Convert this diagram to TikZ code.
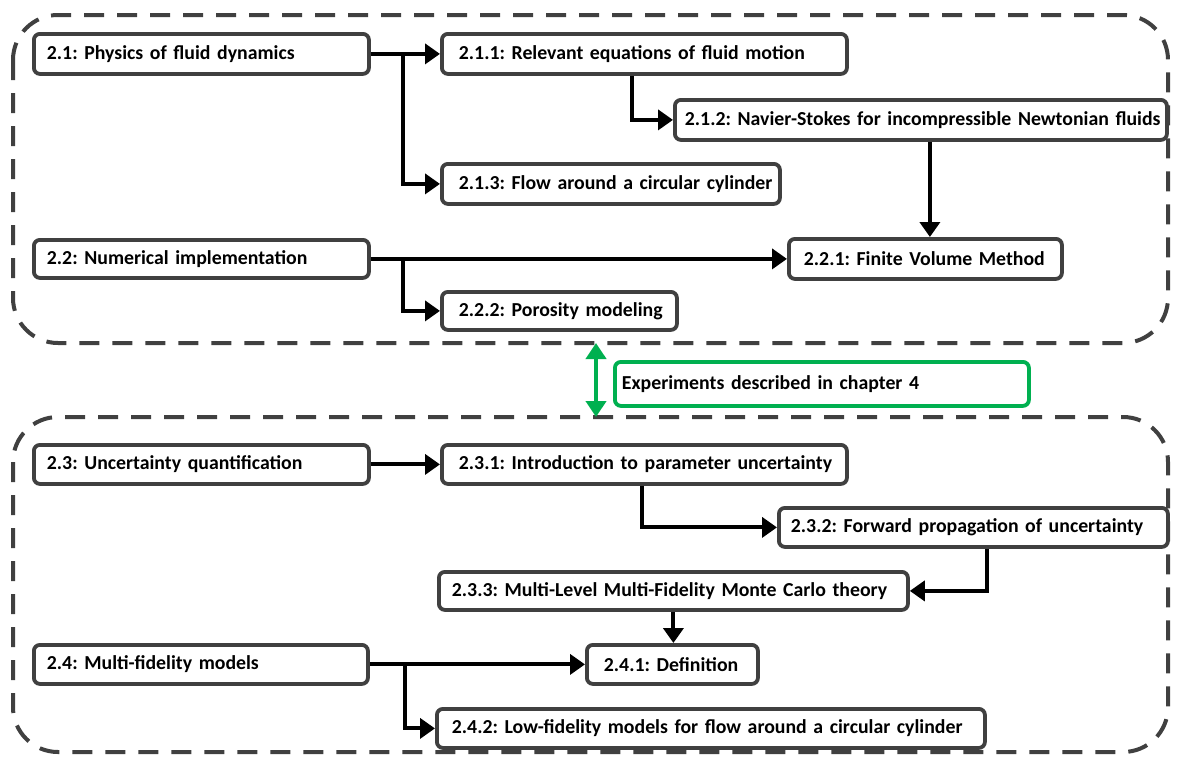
\documentclass[tikz,border=0pt]{standalone}
\usepackage{fontspec}
\setmainfont{Carlito}
\usetikzlibrary{arrows.meta}

\definecolor{edgegray}{HTML}{404040}
\definecolor{expgreen}{HTML}{00B050}

% Section box: name, x1, y1, x2, y2, text inset, text
\newcommand\secbox[7]{%
  \pgfmathsetmacro\secw{#4-#2-2*#6}%
  \pgfmathsetmacro\sech{#5-#3}%
  \node[secbox, inner xsep=#6pt, text width=\secw pt, minimum height=\sech pt,
        anchor=north west] (#1) at (#2,#3) {\mbox{#7}};}

\begin{document}
\frenchspacing
\begin{tikzpicture}[x=1pt, y=-1pt,
  secbox/.style={draw=edgegray, line width=3.8pt, fill=white, rounded corners=6pt,
    inner ysep=0pt, align=left, font=\fontsize{19.8}{22}\selectfont\bfseries\frenchspacing},
  expbox/.style={draw=expgreen, line width=3.8pt, fill=white, rounded corners=6pt,
    inner ysep=0pt, align=left, font=\fontsize{19.8}{22}\selectfont\bfseries\frenchspacing},
  conn/.style={line width=4pt, black, -{Triangle[width=20pt,length=15pt]}},
  garrow/.style={line width=4pt, expgreen,
    {Triangle[width=20pt,length=16pt]}-{Triangle[width=20pt,length=16pt]}},
  frame/.style={draw=edgegray, line width=4pt, dash pattern=on 20pt off 13pt,
    rounded corners=45pt}]
\useasboundingbox (0,0) rectangle (1180,763);

% dashed group frames
\draw[frame] (13,15) rectangle (1168,343);
\draw[frame] (13,417) rectangle (1168,752);

% chapter 2.1 / 2.2
\secbox{n21}{32}{32}{367}{72}{13}{2.1: Physics of fluid dynamics}
\secbox{n211}{440}{32}{845}{72}{17}{2.1.1: Relevant equations of fluid motion}
\secbox{n212}{673}{98}{1165}{138}{10}{2.1.2: Navier-Stokes for incompressible Newtonian fluids}
\secbox{n213}{440}{162}{778}{202}{17}{2.1.3: Flow around a circular cylinder}
\secbox{n22}{32}{238}{367}{276}{13}{2.2: Numerical implementation}
\secbox{n221}{787}{237}{1060}{277}{15}{2.2.1: Finite Volume Method}
\secbox{n222}{440}{290}{675}{328}{17}{2.2.2: Porosity modeling}

% experiments link
\node[expbox, inner xsep=7pt, text width=400pt, minimum height=44pt, anchor=north west]
  (exp) at (613,360) {Experiments described in chapter 4};
\coordinate (gtop) at (596,343);
\coordinate (gbot) at (596,417);
\draw[garrow] (gtop) -- (gbot);

% chapter 2.3 / 2.4
\secbox{n23}{32}{443}{367}{482}{13}{2.3: Uncertainty quantification}
\secbox{n231}{440}{443}{845}{482}{17}{2.3.1: Introduction to parameter uncertainty}
\secbox{n232}{777}{506}{1166}{545}{12}{2.3.2: Forward propagation of uncertainty}
\secbox{n233}{437}{570}{906}{608}{13}{2.3.3: Multi-Level Multi-Fidelity Monte Carlo theory}
\secbox{n24}{32}{643}{366}{682}{13}{2.4: Multi-fidelity models}
\secbox{n241}{585}{643}{756}{682}{17}{2.4.1: Definition}
\secbox{n242}{435}{707}{983}{746}{15}{2.4.2: Low-fidelity models for flow around a circular cylinder}

% branch points
\coordinate (b21) at (403,52);
\coordinate (b22) at (403,257);
\coordinate (b24) at (405,662.5);

% connectors
\draw[conn] (n21.east) -- (n211.west);
\draw[conn] (b21) |- (n213.west);
\draw[conn] ([xshift=-12pt]n211.south) |- (n212.west);
\draw[conn] ([xshift=9pt]n212.south) -- ([xshift=9pt]n212.south |- n221.north);
\draw[conn] (n22.east) -- (n221.west);
\draw[conn] (b22) |- (n222.west);
\draw[conn] (n23.east) -- (n231.west);
\draw[conn] ([xshift=-2pt]n231.south) |- (n232.west);
\draw[conn] ([xshift=14pt]n232.south) |- (n233.east);
\draw[conn] (n233.south) -- (n233.south |- n241.north);
\draw[conn] (n24.east) -- (n241.west);
\draw[conn] (b24) |- (n242.west);
\end{tikzpicture}
\end{document}
